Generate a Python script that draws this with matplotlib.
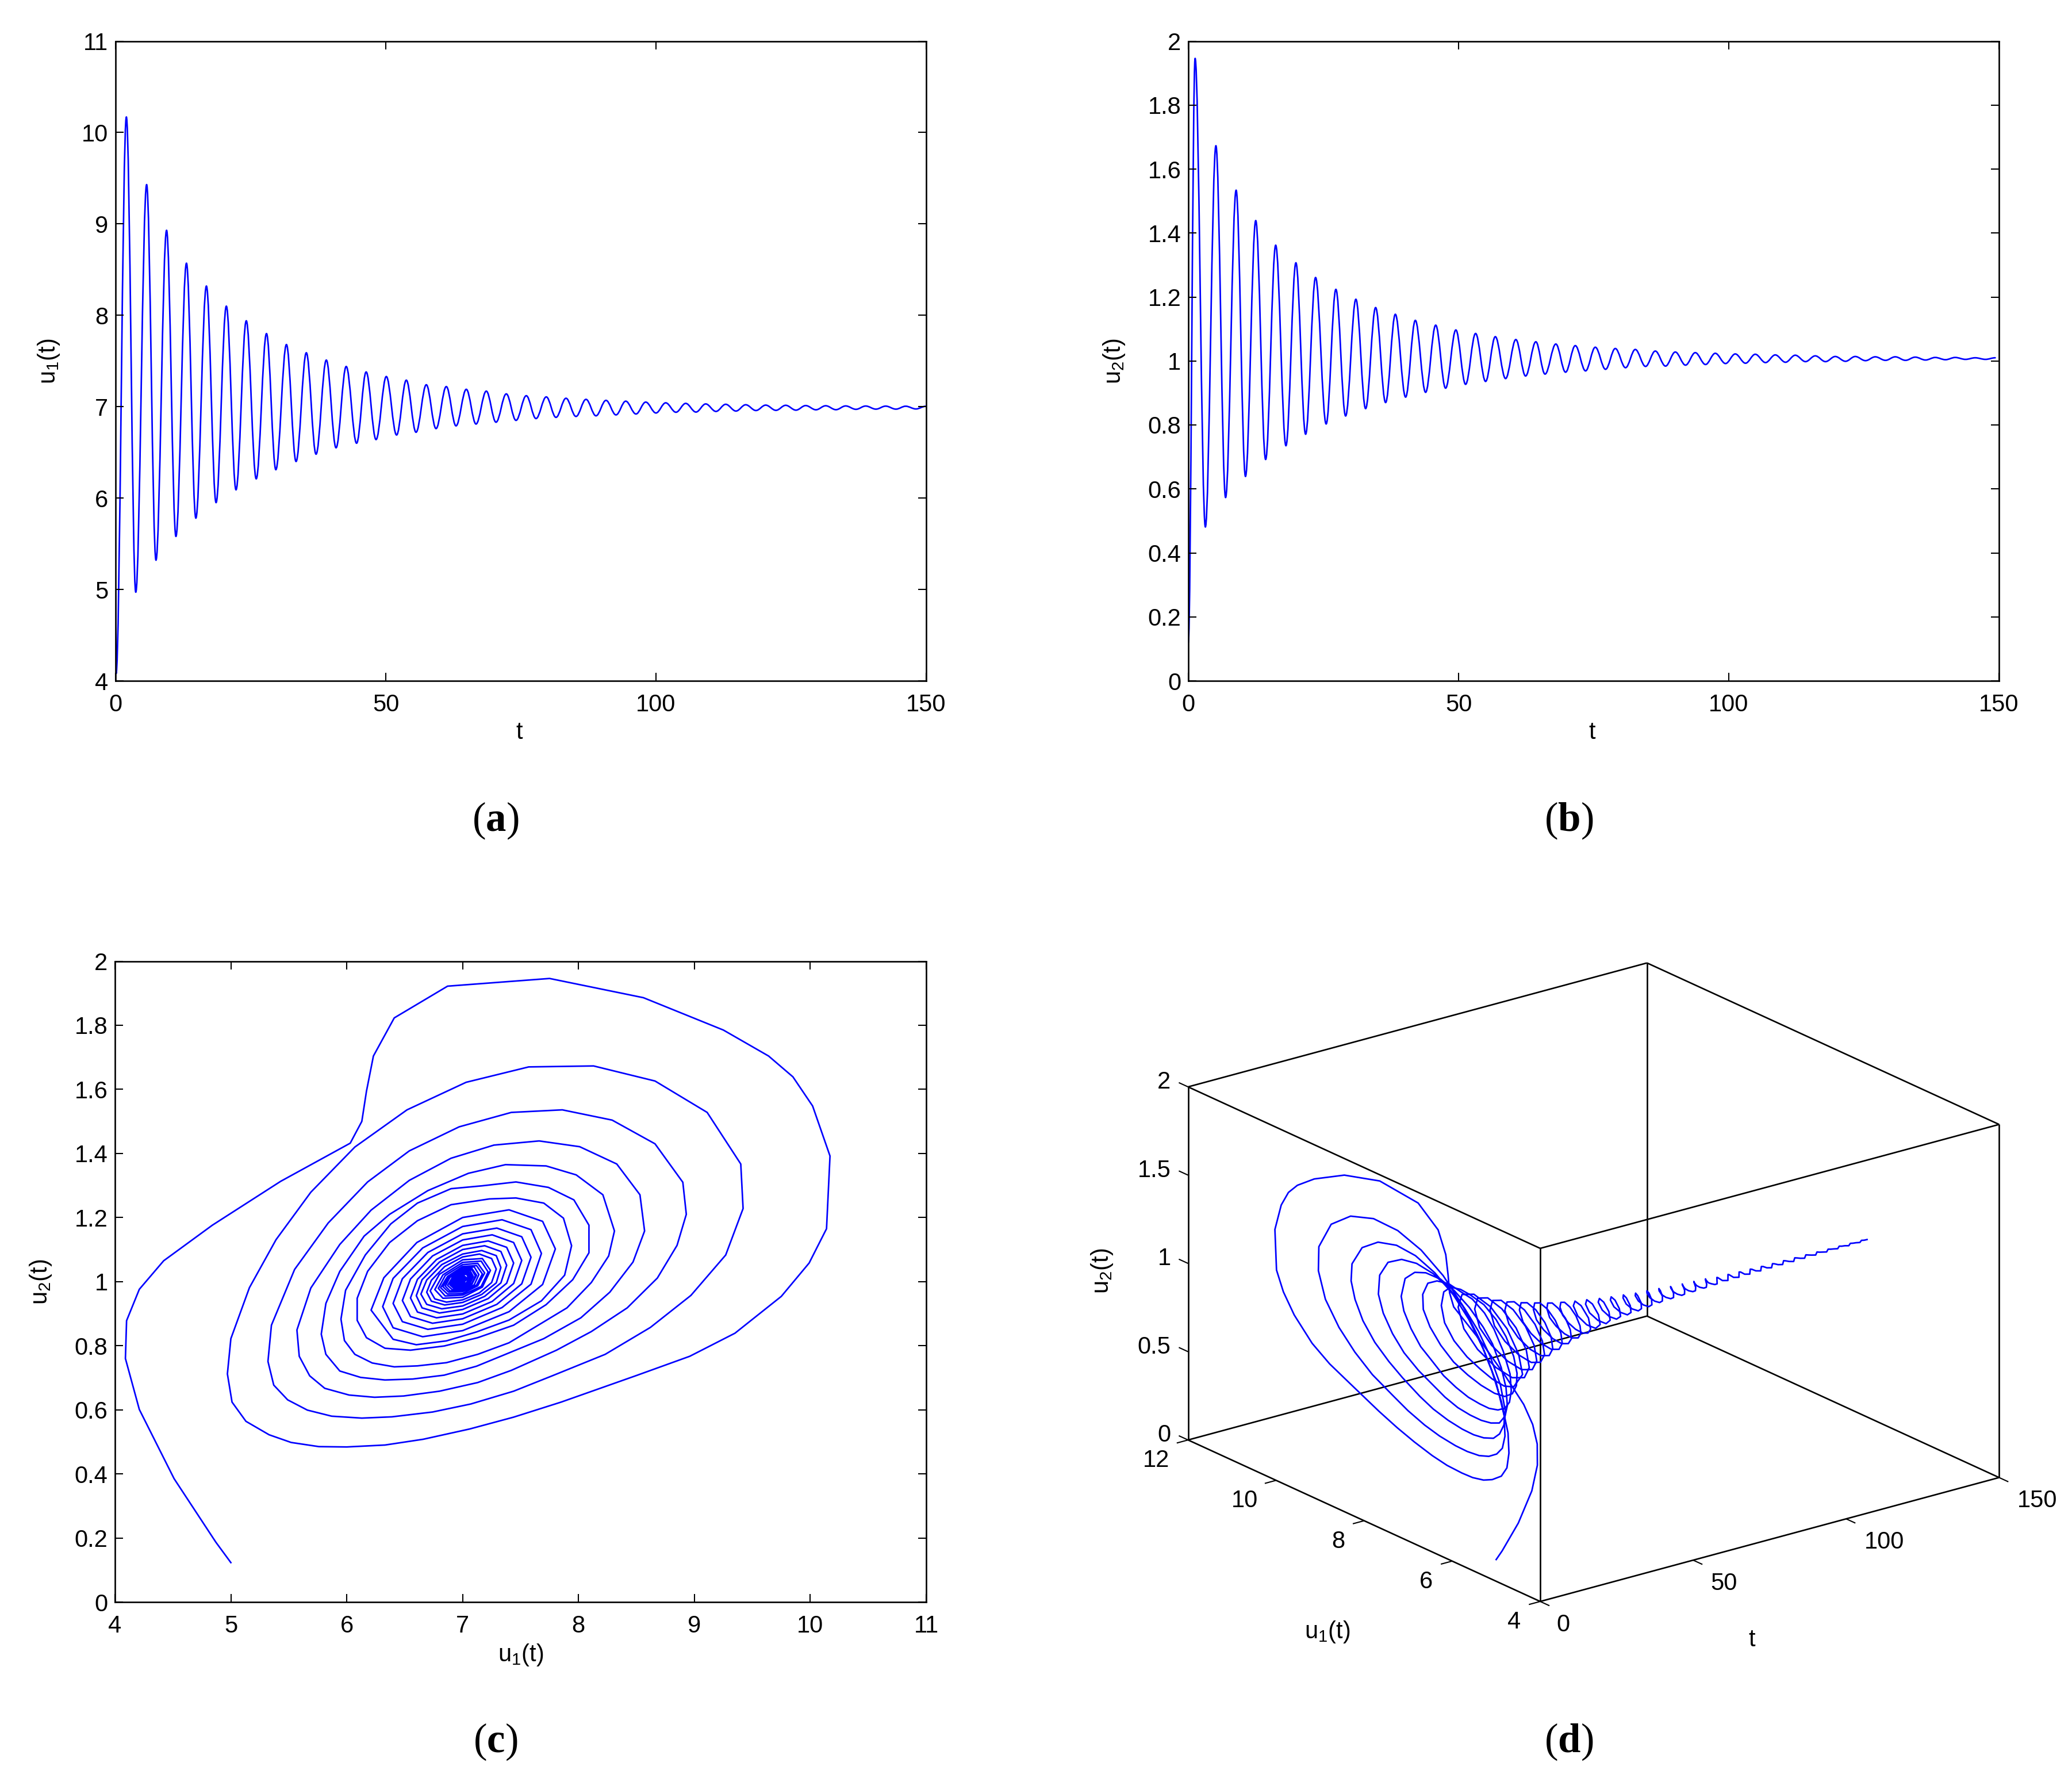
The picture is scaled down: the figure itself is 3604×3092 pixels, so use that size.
import numpy as np
import matplotlib
matplotlib.use("Agg")
import matplotlib.pyplot as plt
from matplotlib.path import Path
from matplotlib.patches import PathPatch
from mpl_toolkits.mplot3d import proj3d

W, H = 3605, 3092
plt.rcParams['font.family'] = ['Liberation Sans', 'DejaVu Sans']
plt.rcParams['mathtext.fontset'] = 'custom'
plt.rcParams['mathtext.rm'] = 'Liberation Sans'
plt.rcParams['mathtext.bf'] = 'Liberation Serif:bold'
plt.rcParams['mathtext.default'] = 'regular'

BLUE = '#0000ff'
LW = 1.95

# ---------- panel (a): turning points of u1(t) ----------
u1_start_t = [0.0, 0.1]
u1_start = [5.0, 4.08]
u1_peak_t = [2.0, 5.75, 9.44, 13.12, 16.81, 20.5, 24.19, 27.93, 31.62, 35.3, 39.0, 42.68, 46.37, 50.1, 53.8, 57.5,
             61.2, 64.9, 68.6, 72.3, 76.0, 79.7, 83.35, 87.05, 90.75, 94.4, 98.1, 101.8, 105.5, 109.2, 112.9, 116.6,
             120.3, 124.0, 127.7, 131.4, 135.1, 138.8, 142.5, 146.2, 149.9]
u1_peak = [10.17, 9.43, 8.93, 8.57, 8.32, 8.10, 7.94, 7.80, 7.68, 7.59, 7.51, 7.44, 7.38, 7.33, 7.29, 7.24,
           7.22, 7.19, 7.17, 7.14, 7.12, 7.107, 7.092, 7.08, 7.069, 7.06, 7.05, 7.042, 7.036, 7.03, 7.026, 7.021,
           7.017, 7.015, 7.012, 7.01, 7.008, 7.007, 7.006, 7.005, 7.004]
u1_trough_t = [3.74, 7.48, 11.17, 14.86, 18.6, 22.29, 26.03, 29.66, 33.4, 37.1, 40.8, 44.6, 48.2, 52.0, 55.6, 59.3,
               63.0, 66.7, 70.4, 74.1, 77.8, 81.5, 85.2, 88.9, 92.6, 96.3, 100.0, 103.7, 107.4, 111.1, 114.8, 118.5,
               122.2, 125.9, 129.6, 133.3, 137.0, 140.7, 144.4, 148.1]
u1_trough = [4.97, 5.32, 5.58, 5.78, 5.95, 6.09, 6.21, 6.31, 6.40, 6.48, 6.55, 6.60, 6.64, 6.69, 6.72, 6.76,
             6.79, 6.81, 6.83, 6.85, 6.87, 6.883, 6.893, 6.90, 6.91, 6.92, 6.931, 6.939, 6.941, 6.948, 6.952, 6.958,
             6.96, 6.962, 6.966, 6.967, 6.971, 6.973, 6.973, 6.975]

# ---------- panel (b): turning points of u2(t) ----------
u2_start_t = [0.0]
u2_start = [0.12]
u2_peak_t = [1.25, 5.1, 8.84, 12.47, 16.16, 19.9, 23.54, 27.3, 31.0, 34.65, 38.3, 42.0, 45.77, 49.5, 53.15, 56.8,
             60.6, 64.3, 68.0, 71.6, 75.3, 79.0, 82.7, 86.4, 90.1, 93.8, 97.5, 101.2, 104.9, 108.6, 112.3, 116.0,
             119.7, 123.4, 127.1, 130.8, 134.5, 138.2, 141.9, 145.6, 149.3]
u2_peak = [1.946, 1.673, 1.534, 1.439, 1.362, 1.307, 1.261, 1.224, 1.193, 1.167, 1.146, 1.127, 1.112, 1.097, 1.086, 1.076,
           1.067, 1.060, 1.053, 1.048, 1.043, 1.039, 1.036, 1.031, 1.028, 1.026, 1.024, 1.022, 1.021, 1.019, 1.018, 1.016,
           1.014, 1.014, 1.013, 1.013, 1.012, 1.011, 1.011, 1.010, 1.010]
u2_trough_t = [3.15, 6.89, 10.57, 14.3, 18.06, 21.7, 25.5, 29.1, 32.8, 36.5, 40.2, 43.9, 47.6, 51.3, 55.0, 58.7,
               62.4, 66.0, 69.8, 73.5, 77.2, 80.9, 84.6, 88.3, 92.0, 95.7, 99.4, 103.1, 106.8, 110.5, 114.2, 117.9,
               121.6, 125.3, 129.0, 132.7, 136.4, 140.1, 143.8, 147.5]
u2_trough = [0.481, 0.573, 0.639, 0.692, 0.735, 0.771, 0.803, 0.828, 0.851, 0.870, 0.887, 0.902, 0.915, 0.927, 0.936, 0.945,
             0.953, 0.959, 0.965, 0.969, 0.974, 0.979, 0.983, 0.984, 0.987, 0.989, 0.992, 0.993, 0.995, 0.996, 0.998, 0.998,
             0.999, 1.001, 1.002, 1.002, 1.003, 1.004, 1.005, 1.005]

# ---------- panels (c), (d): trajectory, one list per turn of the spiral ----------
seg_start_t = [0, 3.74, 7.48, 11.17, 14.86, 18.6, 22.29, 26.03, 29.66, 33.4, 37.1, 40.8, 44.6, 48.2, 52.0, 55.6, 59.3,
               63.0, 66.7, 70.4, 74.1, 77.8, 81.5, 85.2, 88.9, 92.6, 96.3, 100.0, 150.0]

traj_u1 = [
 [5.00,4.87,4.51,4.21,4.09,4.10,4.21,4.42,4.84,5.43,6.03,6.13,6.17,6.23,6.41,6.87,7.75,8.56,9.25,9.64,9.85,10.02,10.17,10.14,9.99,9.75,9.35,8.96,8.50,7.85,7.44,7.06,6.66,6.33,6.00,5.76,5.52,5.33,5.13,5.01],
 [4.97,5.00,5.16,5.39,5.69,6.07,6.52,7.03,7.57,8.13,8.66,9.11,9.40,9.42,9.27,8.97,8.62,8.23,7.78,7.44,7.07,6.74,6.39,6.13,5.87,5.66,5.49,5.37],
 [5.32,5.35,5.55,5.84,6.18,6.54,6.97,7.42,7.86,8.29,8.66,8.90,8.93,8.85,8.68,8.42,8.11,7.81,7.42,7.13,6.80,6.49,6.24,6.02,5.81,5.68,5.59],
 [5.57,5.69,5.94,6.21,6.54,6.90,7.27,7.66,8.01,8.33,8.53,8.57,8.47,8.27,8.02,7.70,7.39,7.12,6.84,6.57,6.33,6.12,5.94,5.82],
 [5.78,5.82,5.94,6.15,6.37,6.70,7.05,7.37,7.72,7.98,8.21,8.31,8.26,8.11,7.90,7.68,7.40,7.13,6.86,6.61,6.41,6.22,6.07,5.98],
 [5.95,5.99,6.16,6.38,6.61,6.90,7.17,7.46,7.74,7.96,8.09,8.09,7.95,7.72,7.44,7.13,6.84,6.55,6.33,6.17],
 [6.09,6.09,6.18,6.37,6.61,6.90,7.23,7.46,7.70,7.87,7.94,7.88,7.68,7.40,7.12,6.86,6.60,6.40],
 [6.21,6.32,6.605,7.00,7.40,7.69,7.80,7.69,7.40,7.00,6.655,6.40],
 [6.31,6.40,6.655,7.00,7.34,7.59,7.68,7.59,7.34,7.00,6.70,6.48],
 [6.40,6.48,6.70,7.00,7.295,7.51,7.59,7.51,7.295,7.00,6.74,6.55],
 [6.48,6.55,6.74,7.00,7.255,7.44,7.51,7.44,7.255,7.00,6.775,6.61],
 [6.55,6.61,6.775,7.00,7.22,7.38,7.44,7.38,7.22,7.00,6.80,6.65],
 [6.60,6.65,6.80,7.00,7.19,7.33,7.38,7.33,7.19,7.00,6.82,6.69],
 [6.64,6.69,6.82,7.00,7.165,7.29,7.33,7.29,7.165,7.00,6.845,6.73],
 [6.69,6.73,6.845,7.00,7.145,7.25,7.29,7.25,7.145,7.00,6.86,6.76],
 [6.72,6.80,7.00,7.17,7.24,7.17,7.00,6.83],
 [6.76,6.83,7.00,7.16,7.22,7.16,7.00,6.85],
 [6.79,6.85,7.00,7.13,7.19,7.13,7.00,6.87],
 [6.81,6.87,7.00,7.12,7.17,7.12,7.00,6.88],
 [6.83,6.88,7.00,7.10,7.14,7.10,7.00,6.89],
 [6.85,6.89,7.00,7.08,7.12,7.08,7.00,6.91],
 [6.87,6.91,7.00,7.08,7.11,7.08,7.00,6.92],
 [6.89,6.92,7.00,7.065,7.092,7.065,7.00,6.924],
 [6.893,6.924,7.00,7.057,7.08,7.057,7.00,6.93],
 [6.90,6.93,7.00,7.049,7.069,7.049,7.00,6.936],
 [6.91,6.936,7.00,7.042,7.06,7.042,7.00,6.943],
 [6.92,6.943,7.00,7.035,7.05,7.035,7.00,6.951],
 [6.931,7,7.042,7, 6.939,7,7.036,7, 6.941,7,7.03,7, 6.948,7,7.026,7, 6.952,7,7.021,7, 6.958,7,7.017,7, 6.96,7,7.015,7,
  6.962,7,7.01,7, 6.966,7,7.008,7, 6.967,7,7.007,7, 6.971,7,7.006,7, 6.973,7,7.006,7, 6.973,7,7.005,7, 6.975,7,7.004,7.0],
]

traj_u2 = [
 [.123,.187,.385,.601,.760,.878,.976,1.065,1.176,1.313,1.432,1.500,1.594,1.704,1.823,1.922,1.946,1.886,1.785,1.704,1.639,1.548,1.392,1.165,1.058,.954,.839,.767,.707,.624,.577,.540,.508,.490,.484,.485,.498,.522,.564,.624],
 [.712,.822,.981,1.131,1.279,1.420,1.536,1.622,1.670,1.673,1.626,1.528,1.367,1.228,1.083,.957,.857,.773,.707,.658,.618,.593,.578,.574,.580,.599,.631,.677],
 [.751,.864,1.038,1.183,1.311,1.408,1.483,1.528,1.536,1.504,1.430,1.310,1.210,1.113,1.011,.918,.844,.786,.723,.685,.658,.643,.639,.646,.667,.706,.767],
 [.849,.980,1.116,1.223,1.316,1.385,1.426,1.439,1.421,1.367,1.271,1.158,1.061,.967,.887,.822,.776,.736,.708,.696,.693,.701,.721,.773],
 [.836,.932,1.032,1.142,1.210,1.284,1.338,1.365,1.361,1.333,1.271,1.158,1.080,.997,.918,.870,.809,.773,.747,.737,.734,.746,.773,.816],
 [.883,.973,1.083,1.180,1.245,1.290,1.299,1.311,1.294,1.255,1.176,1.090,1.006,.928,.864,.825,.799,.786,.792,.825],
 [.879,.948,1.032,1.122,1.190,1.240,1.258,1.261,1.245,1.198,1.112,1.020,.940,.880,.843,.815,.803,.820],
 [.911,1.012,1.122,1.200,1.224,1.188,1.102,.991,.906,.847,.828,.856],
 [.922,1.010,1.105,1.172,1.193,1.162,1.088,.992,.919,.867,.851,.875],
 [.932,1.009,1.091,1.149,1.167,1.140,1.076,.993,.929,.884,.870,.891],
 [.941,1.008,1.080,1.130,1.146,1.122,1.066,.994,.938,.899,.887,.905],
 [.949,1.007,1.069,1.113,1.127,1.107,1.058,.995,.947,.913,.902,.918],
 [.956,1.006,1.061,1.100,1.112,1.094,1.051,.996,.954,.924,.915,.929],
 [.961,1.005,1.053,1.086,1.097,1.081,1.044,.996,.960,.935,.927,.939],
 [.967,1.004,1.047,1.077,1.086,1.072,1.039,.997,.965,.943,.936,.946],
 [.971,1.023,1.068,1.072,1.035,.983,.951,.948],
 [.975,1.021,1.060,1.064,1.030,.985,.958,.955],
 [.979,1.019,1.053,1.057,1.027,.987,.963,.961],
 [.981,1.016,1.047,1.050,1.024,.989,.969,.967],
 [.984,1.015,1.043,1.046,1.022,.990,.972,.971],
 [.986,1.013,1.038,1.041,1.020,.992,.977,.975],
 [.988,1.012,1.035,1.037,1.018,.994,.981,.980],
 [.990,1.011,1.032,1.034,1.016,.995,.985,.984],
 [.992,1.010,1.028,1.029,1.014,.995,.986,.985],
 [.993,1.009,1.025,1.027,1.013,.996,.988,.988],
 [.994,1.008,1.023,1.025,1.012,.997,.990,.990],
 [.995,1.007,1.021,1.023,1.011,.997,.993,.992],
 [.996,1.02,1.01,.994, .997,1.02,1.01,.995, .998,1.017,1.009,.996, .998,1.016,1.008,.998, .999,1.014,1.007,.998, .999,1.013,1.006,.999, 1.0,1.013,1.006,1.0,
  1.0,1.012,1.006,1.001, 1.001,1.012,1.006,1.002, 1.002,1.011,1.005,1.002, 1.002,1.01,1.005,1.003, 1.003,1.01,1.005,1.004, 1.003,1.009,1.005,1.004, 1.004,1.009,1.005,1.005],
]

t_ticks = [0, 50, 100, 150]
u1_ticks_a = [4, 5, 6, 7, 8, 9, 10, 11]
u2_ticks = [0, 0.2, 0.4, 0.6, 0.8, 1, 1.2, 1.4, 1.6, 1.8, 2]
d_t_ticks = [0, 50, 100, 150]
d_u1_ticks = [4, 6, 8, 10, 12]
d_u2_ticks = [0, 0.5, 1, 1.5, 2]
caption_letters = ['a', 'b', 'c', 'd']

fig = plt.figure(figsize=(W / 100, H / 100), dpi=100, facecolor='white')


def axes_px(l, t, r, b):
    return fig.add_axes([l / W, 1 - b / H, (r - l) / W, (b - t) / H])


def fmt(v):
    return ('%g' % v)


def style(ax):
    ax.tick_params(which='both', direction='in', length=10, width=1.5, top=True, right=True,
                   labelsize=30, color='k')
    ax.tick_params(axis='x', pad=15.5)
    ax.tick_params(axis='y', pad=9)
    for s in ax.spines.values():
        s.set_linewidth(1.9)


def smooth_line(ax, ts, us):
    verts = [(ts[0], us[0])]
    codes = [Path.MOVETO]
    for i in range(1, len(ts)):
        d = ts[i] - ts[i - 1]
        verts += [(ts[i - 1] + 0.3642 * d, us[i - 1]), (ts[i] - 0.3642 * d, us[i]), (ts[i], us[i])]
        codes += [Path.CURVE4] * 3
    ax.add_patch(PathPatch(Path(verts, codes), fc='none', ec=BLUE, lw=LW, joinstyle='round', capstyle='round'))


def merged(st, sv, pt, pv, tt, tv):
    ts = np.array(list(st) + list(pt) + list(tt))
    vs = np.array(list(sv) + list(pv) + list(tv))
    o = np.argsort(ts)
    return ts[o], vs[o]


# (a)
ax_a = axes_px(201, 71.5, 1611, 1184)
ta, va = merged(u1_start_t, u1_start, u1_peak_t, u1_peak, u1_trough_t, u1_trough)
smooth_line(ax_a, ta, va)
ax_a.set_xlim(0, 150)
ax_a.set_ylim(4, 11)
ax_a.set_xticks(t_ticks)
ax_a.set_yticks(u1_ticks_a)
style(ax_a)
ax_a.set_xlabel('t', fontsize=30, va='center')
ax_a.xaxis.set_label_coords(0.498, -0.081)
ax_a.set_ylabel('u$_1$(t)', fontsize=30, va='center')
ax_a.yaxis.set_label_coords(-0.082, 0.5)

# (b)
ax_b = axes_px(2067, 71.5, 3477, 1184)
tb, vb = merged(u2_start_t, u2_start, u2_peak_t, u2_peak, u2_trough_t, u2_trough)
smooth_line(ax_b, tb, vb)
ax_b.set_xlim(0, 150)
ax_b.set_ylim(0, 2)
ax_b.set_xticks(t_ticks)
ax_b.set_yticks(u2_ticks)
ax_b.set_yticklabels([fmt(v) for v in u2_ticks])
style(ax_b)
ax_b.set_xlabel('t', fontsize=30, va='center')
ax_b.xaxis.set_label_coords(0.498, -0.081)
ax_b.set_ylabel('u$_2$(t)', fontsize=30, va='center')
ax_b.yaxis.set_label_coords(-0.0915, 0.5)

# trajectory
all_u1 = np.concatenate([np.array(s, float) for s in traj_u1])
all_u2 = np.concatenate([np.array(s, float) for s in traj_u2])
all_t = np.concatenate([np.linspace(seg_start_t[i], seg_start_t[i + 1], len(traj_u1[i]), endpoint=(i == len(traj_u1) - 1))
                        for i in range(len(traj_u1))])

# (c)
ax_c = axes_px(200, 1671.5, 1611, 2786)
ax_c.plot(all_u1, all_u2, color=BLUE, lw=LW, solid_joinstyle='round')
ax_c.set_xlim(4, 11)
ax_c.set_ylim(0, 2)
ax_c.set_xticks(u1_ticks_a)
ax_c.set_yticks(u2_ticks)
ax_c.set_yticklabels([fmt(v) for v in u2_ticks])
style(ax_c)
ax_c.set_xlabel('u$_1$(t)', fontsize=30, va='center')
ax_c.xaxis.set_label_coords(0.5, -0.0825)
ax_c.set_ylabel('u$_2$(t)', fontsize=30, va='center')
ax_c.yaxis.set_label_coords(-0.0915, 0.5)

# (d)
S = 1750
ax_d = fig.add_axes([2000 / W, 100 / H, S / W, S / H], projection='3d', proj_type='ortho')
ax_d.set_axis_off()
ax_d.computed_zorder = False
ax_d.view_init(elev=20.6, azim=-127.5)
ax_d.set_xlim(0, 150)
ax_d.set_ylim(4, 12)
ax_d.set_zlim(0, 2)
aspect = (1, 1, 0.652)
ax_d.set_box_aspect(aspect)


def pix(x, y, z):
    xs, ys, _ = proj3d.proj_transform(x, y, z, ax_d.get_proj())
    return ax_d.transData.transform((float(xs), float(ys)))


# fit the projected box onto the place it has in the page
p0, p1 = pix(0, 4, 0), pix(150, 4, 0)
zoom = 826.8 / np.hypot(*(p1 - p0))
ax_d.set_box_aspect(aspect, zoom=zoom)
p0 = pix(0, 4, 0)
target = np.array([2679.0, H - 2785.0])
pos = ax_d.get_position()
ax_d.set_position([pos.x0 + (target[0] - p0[0]) / W, pos.y0 + (target[1] - p0[1]) / H, pos.width, pos.height])

edge_kw = dict(color='k', lw=1.9, zorder=1, solid_capstyle='butt')
tick_kw = dict(color='k', lw=1.5, zorder=1, solid_capstyle='butt')
for y in (4, 12):
    for z in (0, 2):
        ax_d.plot([0, 150], [y, y], [z, z], **edge_kw)
for x in (0, 150):
    for z in (0, 2):
        ax_d.plot([x, x], [4, 12], [z, z], **edge_kw)
for x in (0, 150):
    for y in (4, 12):
        ax_d.plot([x, x], [y, y], [0, 2], **edge_kw)

for v in d_t_ticks:
    ax_d.plot([v, v], [4, 3.79], [0, 0], **tick_kw)
for v in d_u1_ticks:
    ax_d.plot([0, -3.7], [v, v], [0, 0], **tick_kw)
for v in d_u2_ticks:
    ax_d.plot([0, 0], [12, 12.21], [v, v], **tick_kw)

ax_d.plot(all_t, all_u1, all_u2, color=BLUE, lw=LW, zorder=3, solid_joinstyle='round')


def label3d(x, y, z, s, dx, dy, ha='center'):
    xs, ys, _ = proj3d.proj_transform(x, y, z, ax_d.get_proj())
    ax_d.annotate(s, xy=(float(xs), float(ys)), xycoords='data', xytext=(dx, dy), textcoords='offset pixels',
                  ha=ha, va='center', fontsize=30, annotation_clip=False)


for v, dx in zip(d_t_ticks, (40, 53, 66, 66)):
    label3d(v, 4, 0, fmt(v), dx, -41)
for v, dx in zip(d_u1_ticks, (-45, -45, -45, -55, -55)):
    label3d(0, v, 0, fmt(v), dx, -36)
for v in d_u2_ticks:
    label3d(0, 12, v, fmt(v), -30, 8, ha='right')

fig.text(2309 / W, 1 - 2838 / H, 'u$_1$(t)', fontsize=30, ha='center', va='center')
fig.text(3047 / W, 1 - 2852 / H, 't', fontsize=30, ha='center', va='center')
fig.text(1917 / W, 1 - 2210 / H, 'u$_2$(t)', fontsize=30, ha='center', va='center', rotation=90)

# captions
cap_x = [862, 2729, 862, 2729]
cap_y = [1427, 1427, 3029, 3029]
for s, x, y in zip(caption_letters, cap_x, cap_y):
    fig.text(x / W, 1 - y / H, r'($\mathbf{%s}$)' % s, fontsize=51, family='Liberation Serif', ha='center', va='center')

fig.savefig('out.png', dpi=100, facecolor='white')
